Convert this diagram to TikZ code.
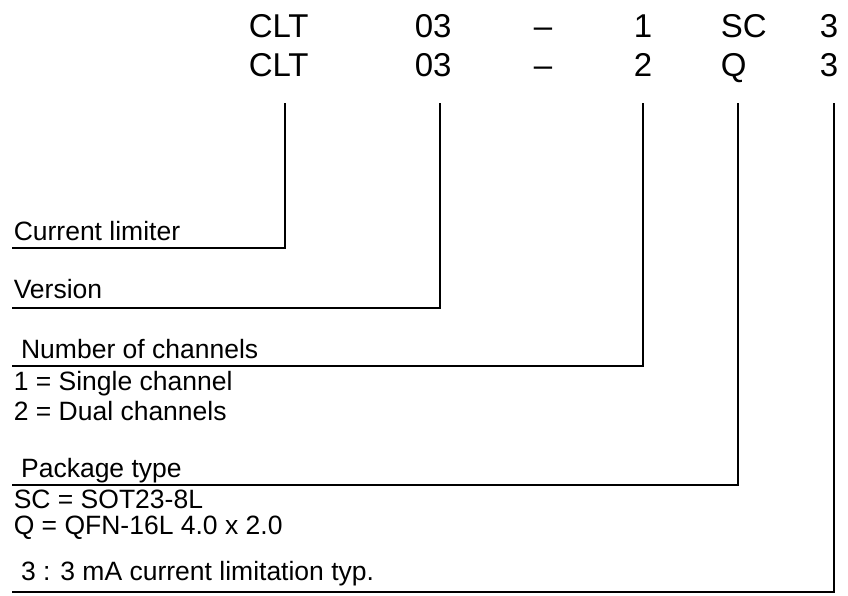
\documentclass[tikz,border=0pt]{standalone}
\usepackage{fontspec}
\setmainfont{Liberation Sans}

\begin{document}
\begin{tikzpicture}[x=1pt,y=-1pt,line width=1.5pt,
		code/.style={anchor=base west,inner sep=0pt,font=\fontsize{33}{38}\selectfont},
		lbl/.style={anchor=base west,inner sep=0pt,font=\fontsize{26.5}{30}\selectfont}]
	\useasboundingbox (0,0) rectangle (848,595);
	% part numbers
	\foreach \r/\y/\ch/\pk in {1/37/1/SC,2/76/2/Q}{
		\node[code] (clt\r) at (248,\y) {CLT};
		\node[code] (ver\r) at (414,\y) {03};
		\node[code] (dash\r) at (533,\y) {--};
		\node[code] (ch\r) at (633,\y) {\ch};
		\node[code] (pk\r) at (720,\y) {\pk};
		\node[code] (ma\r) at (819,\y) {3};
	}
	% legend
	\node[lbl] (limiter) at (13,240) {Current limiter};
	\node[lbl] (version) at (13,298) {Version};
	\node[lbl] (chan) at (13,358) {\ Number of channels};
	\node[lbl] (single) at (13,390) {1 = Single channel};
	\node[lbl] (dual) at (13,420) {2 = Dual channels};
	\node[lbl] (pack) at (13,477) {\ Package type};
	\node[lbl] (sot) at (13,508) {SC = SOT23-8L};
	\node[lbl] (qfn) at (13,534) {Q = QFN-16L 4.0 x 2.0};
	\node[lbl] (curr) at (13,580) {\ 3 : 3 mA current limitation typ.};
	% leader lines
	\foreach \n/\x/\y in {1/285/248,2/440/308,3/643/366,4/738/485,5/834/592}{
		\coordinate (top\n) at (\x,103);
		\coordinate (end\n) at (12,\y);
		\draw (top\n) |- (end\n);
	}
\end{tikzpicture}
\end{document}
